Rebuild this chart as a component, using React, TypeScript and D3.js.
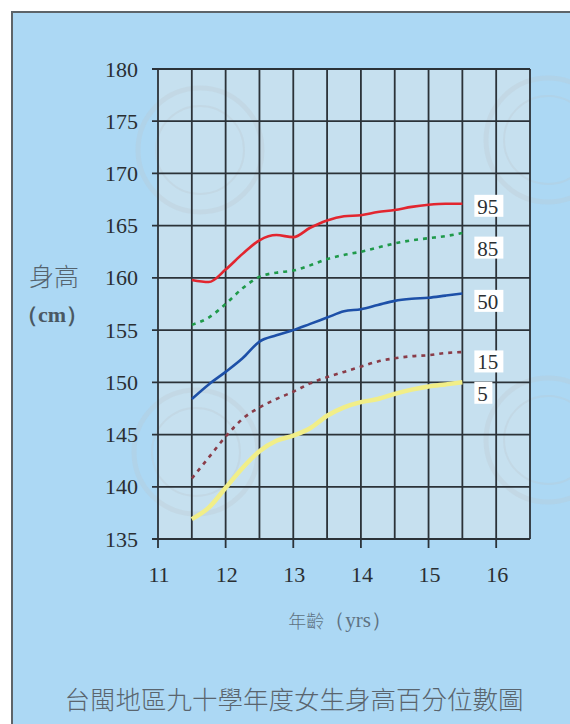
import React from 'react';
import * as d3 from 'd3';

// ages (years) at which the curves were read
const ages = [11.5, 11.75, 12, 12.25, 12.5, 12.75, 13, 13.25, 13.5, 13.75, 14, 14.25, 14.5, 14.75, 15, 15.25, 15.5];

const p95 = [159.8, 159.6, 160.8, 162.3, 163.6, 164.1, 163.9, 164.8, 165.5, 165.9, 166.0, 166.3, 166.5, 166.8, 167.0, 167.1, 167.1];
const p85 = [155.5, 156.2, 157.5, 159.0, 160.1, 160.5, 160.7, 161.2, 161.8, 162.2, 162.5, 162.9, 163.3, 163.6, 163.8, 164.0, 164.3];
const p50 = [148.4, 149.8, 151.0, 152.3, 153.9, 154.5, 155.0, 155.6, 156.2, 156.8, 157.0, 157.4, 157.8, 158.0, 158.1, 158.3, 158.5];
const p15 = [140.8, 142.8, 144.8, 146.5, 147.6, 148.4, 149.1, 149.9, 150.5, 151.0, 151.5, 152.0, 152.3, 152.5, 152.6, 152.8, 152.9];
const p5 = [136.9, 138.0, 139.9, 141.8, 143.4, 144.4, 144.9, 145.6, 146.8, 147.6, 148.1, 148.4, 148.9, 149.3, 149.6, 149.8, 150.0];

const percentiles = ['95', '85', '50', '15', '5'];
// heights where the white label boxes sit
const labelHeights = [166.9, 162.9, 157.8, 152.0, 149.0];

const xTicks = [11, 12, 13, 14, 15, 16];
const yTicks = [135, 140, 145, 150, 155, 160, 165, 170, 175, 180];

const W = 570;
const H = 724;

const series = [
  { name: '95', values: p95, color: '#e2262f', width: 2.6, dash: null },
  { name: '85', values: p85, color: '#1f9a4a', width: 2.6, dash: '4 5' },
  { name: '50', values: p50, color: '#1d50a8', width: 2.6, dash: null },
  { name: '15', values: p15, color: '#8a3c48', width: 2.6, dash: '4 5' },
  { name: '5', values: p5, color: '#f1ee88', width: 4.5, dash: null },
];

// faint seal watermarks behind the chart
const seals = [[200, 150], [548, 140], [196, 452], [548, 440]];

export default function App() {
  const x = d3.scaleLinear().domain([11, 16.5]).range([158, 530]);
  const y = d3.scaleLinear().domain([135, 180]).range([539, 69]);

  const line = d3.line<[number, number]>()
    .x(d => x(d[0]))
    .y(d => y(d[1]))
    .curve(d3.curveMonotoneX);

  const gridX = d3.range(11, 16.51, 0.5);
  const serif = { fontFamily: '"Liberation Serif", "Times New Roman", "DejaVu Serif", serif' };
  const cjk = { fontFamily: '"Noto Sans CJK TC", "Noto Sans CJK SC", sans-serif' };

  return (
    <svg width={W} height={H} style={{ position: 'absolute', left: 0, top: 0 }}>
      {/* outer panel */}
      <rect x={0} y={0} width={W} height={H} fill="#ffffff" />
      <rect x={12} y={12} width={W + 10} height={H + 10} fill="#acd8f4" stroke="#5d6469" strokeWidth={2} />

      {/* plot background */}
      <rect x={x(11)} y={y(180)} width={x(16.5) - x(11)} height={y(135) - y(180)} fill="#c6e0ef" />

      {seals.map(([cx, cy], i) => (
        <g key={'seal' + i} fill="none" stroke="#b9c6cc" strokeOpacity={0.28}>
          <circle cx={cx} cy={cy} r={62} strokeWidth={5} />
          <circle cx={cx} cy={cy} r={44} strokeWidth={2} />
        </g>
      ))}

      {/* grid */}
      {gridX.map(g => (
        <line key={'gx' + g} x1={x(g)} x2={x(g)} y1={y(180)} y2={y(135)} stroke="#2b3238" strokeWidth={1.8} />
      ))}
      {yTicks.map(t => (
        <line key={'gy' + t} x1={x(11) - 6} x2={x(16.5)} y1={y(t)} y2={y(t)} stroke="#2b3238" strokeWidth={1.8} />
      ))}
      {xTicks.map(t => (
        <line key={'tx' + t} x1={x(t)} x2={x(t)} y1={y(135)} y2={y(135) + 9} stroke="#2b3238" strokeWidth={1.8} />
      ))}

      {/* y tick labels */}
      {yTicks.map(t => (
        <text key={'ly' + t} x={x(11) - 20} y={y(t)} textAnchor="end" dominantBaseline="central"
          style={serif} fontSize={22} fill="#2a2f33">{t}</text>
      ))}
      {/* x tick labels */}
      {xTicks.map(t => (
        <text key={'lx' + t} x={x(t) + 1} y={574} textAnchor="middle" dominantBaseline="central"
          style={serif} fontSize={22} fill="#2a2f33">{t}</text>
      ))}

      {/* curves */}
      {series.map(s => (
        <path key={s.name}
          d={line(ages.map((a, i) => [a, s.values[i]] as [number, number])) || ''}
          fill="none" stroke={s.color} strokeWidth={s.width}
          strokeDasharray={s.dash || undefined} strokeLinejoin="round" strokeLinecap="butt" />
      ))}

      {/* percentile labels */}
      {percentiles.map((p, i) => {
        const w = p.length * 11 + 7;
        return (
          <g key={'pl' + p}>
            <rect x={x(15.5) + 12} y={y(labelHeights[i]) - 11} width={w} height={22} fill="#ffffff" />
            <text x={x(15.5) + 15} y={y(labelHeights[i]) + 1} dominantBaseline="central"
              style={serif} fontSize={21} fill="#2a2f33">{p}</text>
          </g>
        );
      })}

      {/* axis titles */}
      <text x={54} y={275} textAnchor="middle" dominantBaseline="central" style={cjk}
        fontSize={25} fontWeight={300} fill="#55636e">身高</text>
      <text x={52} y={314} textAnchor="middle" dominantBaseline="central" style={serif}
        fontSize={22} fontWeight="bold" fill="#4a5863">（cm）</text>
      <text x={340} y={620} textAnchor="middle" dominantBaseline="central" style={cjk}
        fontSize={18} fontWeight={300} fill="#5e7282">
        年齡<tspan style={serif} fontSize={21}>（yrs）</tspan>
      </text>

      {/* caption */}
      <text x={294} y={697} textAnchor="middle" dominantBaseline="central" style={cjk}
        fontSize={25.5} fontWeight={300} fill="#5a656e">台閩地區九十學年度女生身高百分位數圖</text>
    </svg>
  );
}
